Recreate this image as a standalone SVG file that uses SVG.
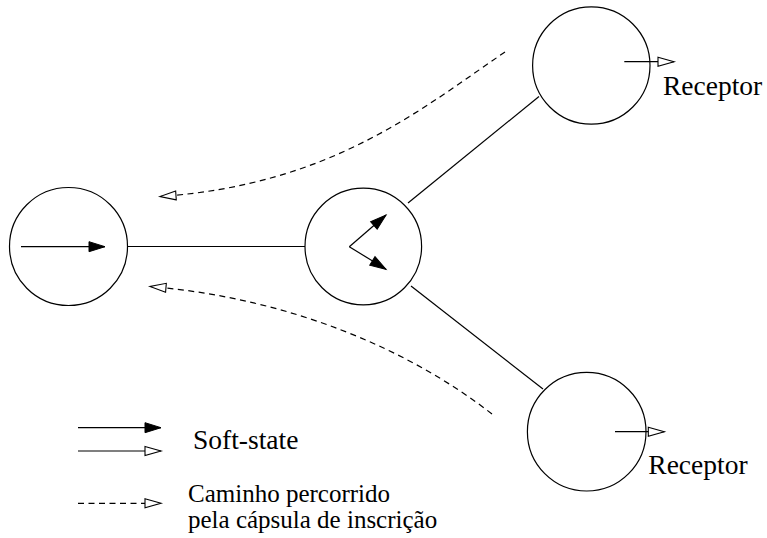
<svg xmlns="http://www.w3.org/2000/svg" width="767" height="538" viewBox="0 0 767 538">
  <style>
    .node { fill: #fff; stroke: #000; stroke-width: 1.2; }
    .link { fill: none; stroke: #000; stroke-width: 1.2; }
    .path { fill: none; stroke: #000; stroke-width: 1.2; stroke-dasharray: 6 4.5; }
    .lbl { font-family: 'Liberation Serif', serif; font-size: 27.5px; fill: #000; }
    .note { font-family: 'Liberation Serif', serif; font-size: 25px; fill: #000; }
  </style>
  <defs>
    <marker id="solid" markerUnits="userSpaceOnUse" markerWidth="18" markerHeight="12" refX="16" refY="5" orient="auto" overflow="visible">
      <path d="M0,0 L16,5 L0,10 Z" fill="#000" stroke="#000" stroke-width="1"/>
    </marker>
    <marker id="hollow" markerUnits="userSpaceOnUse" markerWidth="18" markerHeight="12" refX="16" refY="4.5" orient="auto" overflow="visible">
      <path d="M0,0 L16,4.5 L0,9 Z" fill="#fff" stroke="#000" stroke-width="1.1"/>
    </marker>
  </defs>

  <!-- links between nodes -->
  <g id="connectors">
    <line class="link" x1="127.5" y1="246.5" x2="305" y2="246.5"/>
    <line class="link" x1="408" y1="203" x2="539" y2="96.5"/>
    <line class="link" x1="411" y1="286" x2="543" y2="389"/>
    <path class="path" d="M505,52 C420,110 330,185 160,196.5" marker-end="url(#hollow)"/>
    <path class="path" d="M492,414 C410,350 290,298 150,286.5" marker-end="url(#hollow)"/>
  </g>

  <!-- source -->
  <g id="source">
    <circle class="node" cx="68.5" cy="246.5" r="59"/>
    <line class="link" x1="21" y1="246.7" x2="105" y2="246.7" marker-end="url(#solid)"/>
  </g>

  <!-- branching router -->
  <g id="router">
    <circle class="node" cx="363.3" cy="246.5" r="58.3"/>
    <line class="link" x1="349.3" y1="246.7" x2="386" y2="215" marker-end="url(#solid)"/>
    <line class="link" x1="349.3" y1="246.7" x2="386" y2="269.3" marker-end="url(#solid)"/>
  </g>

  <!-- upper receiver -->
  <g id="receptor-top">
    <circle class="node" cx="591.3" cy="65.5" r="58.7"/>
    <line class="link" x1="624.3" y1="61.7" x2="674" y2="61.7" marker-end="url(#hollow)"/>
    <text class="lbl" x="663" y="95">Receptor</text>
  </g>

  <!-- lower receiver -->
  <g id="receptor-bottom">
    <circle class="node" cx="586.7" cy="431.7" r="59.3"/>
    <line class="link" x1="615" y1="431.7" x2="664.3" y2="431.7" marker-end="url(#hollow)"/>
    <text class="lbl" x="648.3" y="473.5">Receptor</text>
  </g>

  <!-- legend -->
  <g id="legend">
    <line class="link" x1="78" y1="427.7" x2="161" y2="427.7" marker-end="url(#solid)"/>
    <line class="link" x1="78" y1="451" x2="161" y2="451" marker-end="url(#hollow)"/>
    <line class="path" x1="78" y1="503.3" x2="161" y2="503.3" marker-end="url(#hollow)"/>
    <text class="lbl" x="193" y="449">Soft-state</text>
    <text class="note" x="188" y="502">Caminho percorrido</text>
    <text class="note" x="188" y="528">pela cápsula de inscrição</text>
  </g>
</svg>
